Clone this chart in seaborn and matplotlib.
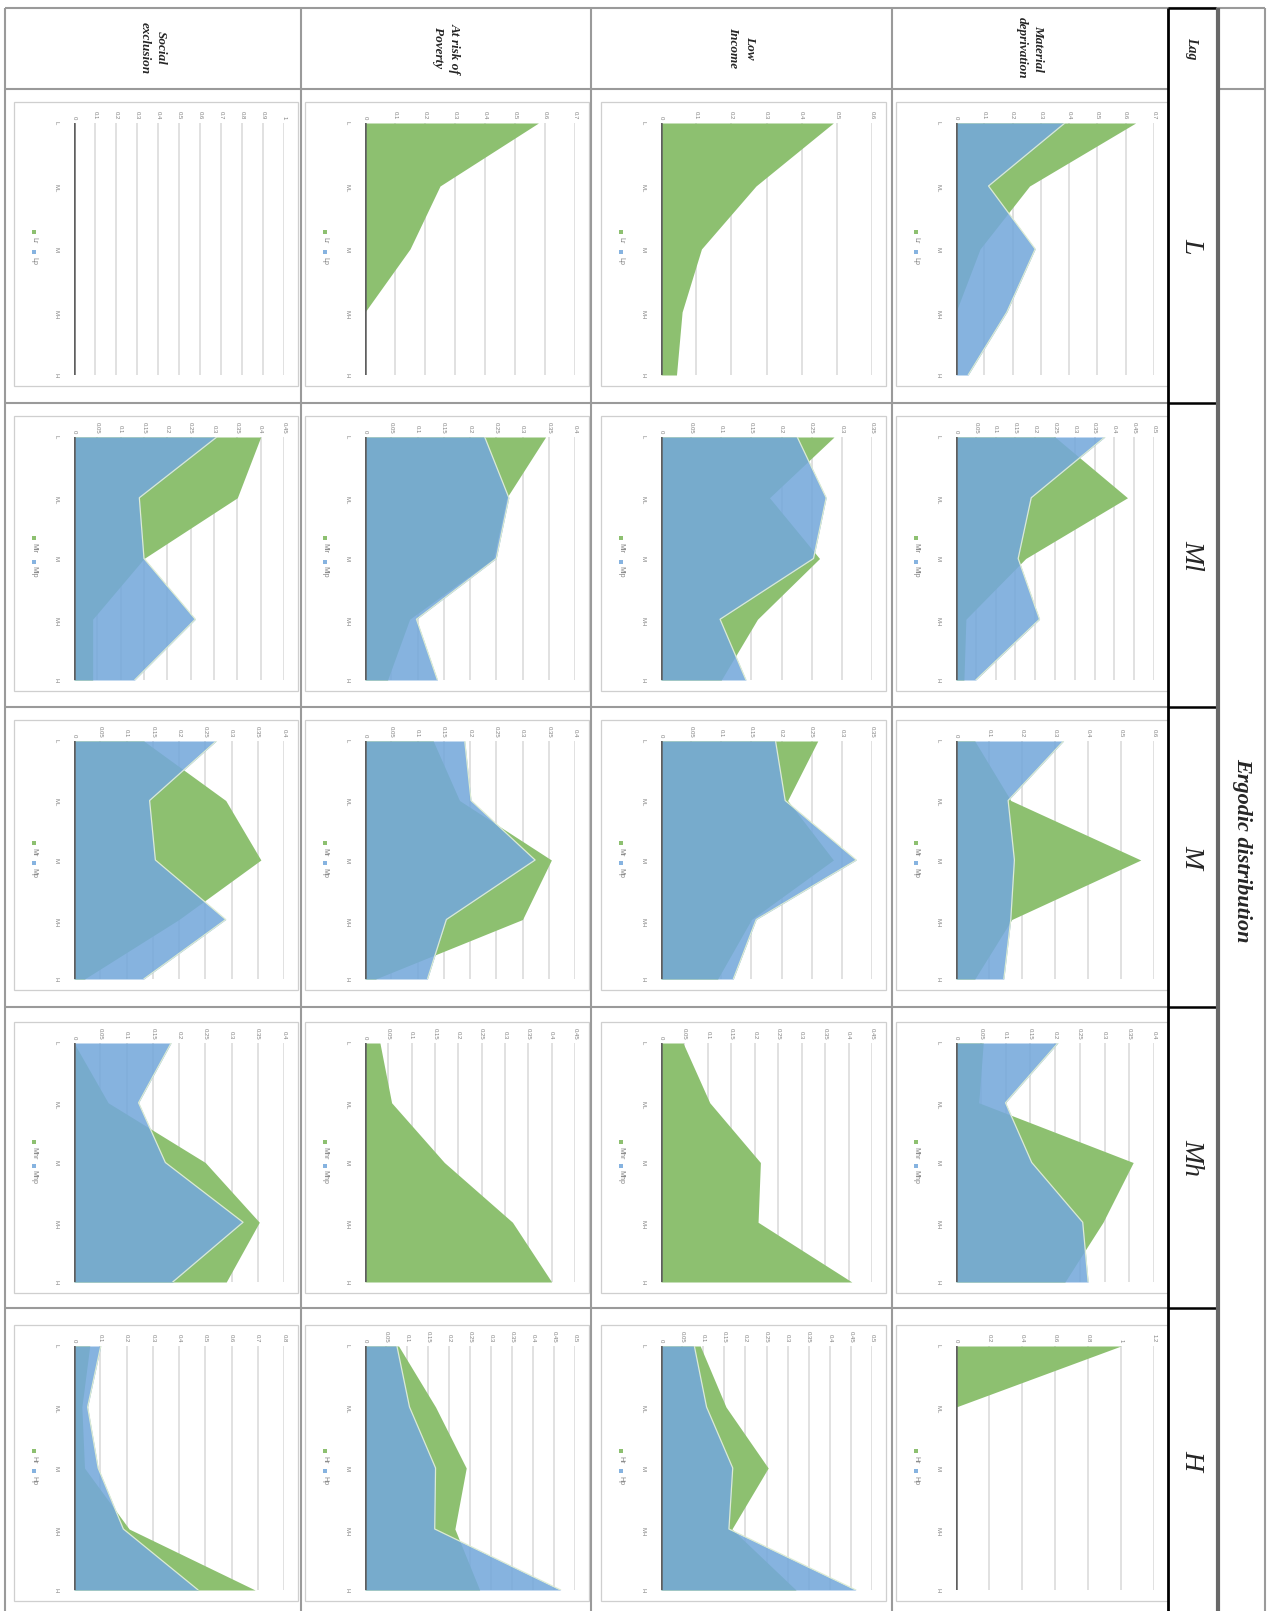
import matplotlib
matplotlib.use("Agg")
import matplotlib.pyplot as plt
from matplotlib.patches import Rectangle
import seaborn as sns
import numpy as np

lags = ["L", "Ml", "M", "Mh", "H"]
categories = ["L", "ML", "M", "MH", "H"]
indicators = ["Social\nexclusion", "At risk of\nPoverty", "Low\nIncome", "Material\ndeprivation"]

# green series ("r") and blue series ("p"), one row per lag: L, Ml, M, Mh, H
se_r = [[0, 0, 0, 0, 0],
        [0.40, 0.35, 0.15, 0.04, 0.04],
        [0.133, 0.289, 0.356, 0.20, 0.02],
        [0.0, 0.065, 0.25, 0.353, 0.29],
        [0.06, 0.03, 0.04, 0.21, 0.69]]
se_p = [[0, 0, 0, 0, 0],
        [0.306, 0.14, 0.15, 0.26, 0.13],
        [0.271, 0.144, 0.155, 0.289, 0.133],
        [0.185, 0.123, 0.174, 0.322, 0.188],
        [0.102, 0.052, 0.092, 0.188, 0.473]]
ar_r = [[0.578, 0.25, 0.15, 0.0, 0.0],
        [0.344, 0.27, 0.245, 0.085, 0.043],
        [0.13, 0.18, 0.355, 0.30, 0.02],
        [0.032, 0.057, 0.17, 0.316, 0.40],
        [0.08, 0.168, 0.241, 0.214, 0.273]]
ar_p = [[0, 0, 0, 0, 0],
        [0.228, 0.274, 0.25, 0.098, 0.138],
        [0.19, 0.202, 0.324, 0.155, 0.119],
        [0, 0, 0, 0, 0],
        [0.076, 0.106, 0.168, 0.166, 0.466]]
li_r = [[0.49, 0.27, 0.115, 0.06, 0.044],
        [0.287, 0.18, 0.263, 0.16, 0.10],
        [0.26, 0.21, 0.286, 0.15, 0.094],
        [0.047, 0.104, 0.212, 0.207, 0.407],
        [0.093, 0.154, 0.254, 0.168, 0.32]]
li_p = [[0, 0, 0, 0, 0],
        [0.226, 0.274, 0.253, 0.098, 0.141],
        [0.19, 0.206, 0.324, 0.158, 0.12],
        [0, 0, 0, 0, 0],
        [0.079, 0.108, 0.17, 0.161, 0.462]]
md_r = [[0.635, 0.26, 0.085, 0.0, 0.0],
        [0.25, 0.433, 0.176, 0.025, 0.02],
        [0.057, 0.166, 0.56, 0.169, 0.057],
        [0.055, 0.046, 0.358, 0.297, 0.22],
        [1.0, 0, 0, 0, 0]]
md_p = [[0.385, 0.115, 0.28, 0.18, 0.043],
        [0.376, 0.19, 0.157, 0.211, 0.05],
        [0.326, 0.158, 0.177, 0.166, 0.145],
        [0.206, 0.10, 0.153, 0.256, 0.267],
        [0, 0, 0, 0, 0]]

# value axis maximum and step per lag
se_max = [1.0, 0.45, 0.4, 0.4, 0.8]
se_step = [0.1, 0.05, 0.05, 0.05, 0.1]
ar_max = [0.7, 0.4, 0.4, 0.45, 0.5]
ar_step = [0.1, 0.05, 0.05, 0.05, 0.05]
li_max = [0.6, 0.35, 0.35, 0.45, 0.5]
li_step = [0.1, 0.05, 0.05, 0.05, 0.05]
md_max = [0.7, 0.5, 0.6, 0.4, 1.2]
md_step = [0.1, 0.05, 0.1, 0.05, 0.2]

series = [(se_r, se_p, se_max, se_step), (ar_r, ar_p, ar_max, ar_step),
          (li_r, li_p, li_max, li_step), (md_r, md_p, md_max, md_step)]

GREEN = "#8dc070"
BLUE = "#74a8db"
BLUE_LEG = "#86b3e0"
GRAY_TXT = "#808080"

sns.set_style("white")
plt.rcParams["font.family"] = ["Liberation Sans", "DejaVu Sans"]

W, H = 1267, 1611
col_x = [5, 301, 591, 892, 1168]
row_y = [89, 403, 707, 1007, 1308, 1611]
frame_x = [(14, 298), (305, 589), (601, 886), (896, 1168)]
frame_y = [(102, 386), (416, 691), (720, 990), (1022, 1293), (1325, 1601)]

fig = plt.figure(figsize=(W / 100, H / 100), dpi=100)
bg = fig.add_axes([0, 0, 1, 1])
bg.set_xlim(0, W)
bg.set_ylim(H, 0)
bg.axis("off")

# table grid
lc = "#9a9a9a"
bg.hlines(8, 5, 1265, color=lc, lw=1.5)
bg.hlines(89, 5, 1168, color=lc, lw=1.5)
bg.hlines(89, 1220, 1265, color=lc, lw=1.5)
bg.hlines(row_y[1:-1], 5, 1168, color=lc, lw=1.5)
bg.vlines(col_x[:-1], 8, H, color=lc, lw=1.5)
bg.vlines(1265, 8, H, color=lc, lw=1.5)
bg.vlines(1168, 8, H, color="black", lw=2)
bg.hlines([8] + row_y[1:-1], 1168, 1216, color="black", lw=1.8)
bg.vlines(1218, 8, H, color="#686868", lw=3)

serif = "Liberation Serif"
for i, lab in enumerate(indicators):
    bg.text((col_x[i] + col_x[i + 1]) / 2, 48, lab, rotation=-90, ha="center", va="center",
            fontsize=9.5, fontweight="bold", fontstyle="italic", family=serif,
            linespacing=1.5, multialignment="center")
bg.text(1192, 48, "Lag", rotation=-90, ha="center", va="center", fontsize=10,
        fontweight="bold", fontstyle="italic", family=serif)
for j, lag in enumerate(lags):
    bg.text(1192, (row_y[j] + row_y[j + 1]) / 2, lag, rotation=-90, ha="center", va="center",
            fontsize=20, fontstyle="italic", family=serif)
bg.text(1242, 850, "Ergodic distribution", rotation=-90, ha="center", va="center",
        fontsize=16, fontweight="bold", fontstyle="italic", family=serif)

pos = np.arange(len(categories))
for i, (r_all, p_all, vmaxs, steps) in enumerate(series):
    fx0, fx1 = frame_x[i]
    for j, lag in enumerate(lags):
        fy0, fy1 = frame_y[j]
        bg.add_patch(Rectangle((fx0, fy0), fx1 - fx0, fy1 - fy0, fill=False,
                               edgecolor="#cfcfcf", lw=0.9))
        px0, px1 = fx0 + 60, fx1 - 14
        py0, py1 = fy0 + 21, fy1 - 11
        ax = fig.add_axes([px0 / W, 1 - py1 / H, (px1 - px0) / W, (py1 - py0) / H])
        ax.set_facecolor("none")
        r = r_all[j]
        p = p_all[j]
        ax.fill_betweenx(pos, 0, r, color=GREEN, lw=0, zorder=2)
        ax.fill_betweenx(pos, 0, p, color=BLUE, alpha=0.87, lw=0, zorder=2.1)
        if max(p) > 0:
            sns.lineplot(x=p, y=pos, sort=False, estimator=None, color="#dcebd3",
                         lw=0.9, ax=ax, zorder=2.2)
        ax.axvline(0, color="#5f5f5f", lw=1.8, zorder=3)
        vmax, step = vmaxs[j], steps[j]
        ticks = np.round(np.arange(0, vmax + step / 2, step), 2)
        ax.set_xlim(0, vmax)
        ax.set_ylim(len(categories) - 1, 0)
        ax.xaxis.tick_top()
        ax.set_xticks(ticks)
        ax.set_xticklabels([f"{t:g}" for t in ticks])
        ax.set_yticks(pos)
        ax.set_yticklabels(categories)
        ax.tick_params(axis="x", length=0, pad=2.5, labelsize=4.3, labelcolor=GRAY_TXT,
                       labelrotation=-90)
        ax.tick_params(axis="y", length=0, pad=11, labelsize=4.3, labelcolor=GRAY_TXT,
                       labelrotation=-90)
        ax.grid(axis="x", color="#dcdcdc", lw=1.2)
        ax.grid(axis="y", visible=False)
        ax.set_axisbelow(True)
        for s in ax.spines.values():
            s.set_visible(False)
        ax.set_xlabel("")
        ax.set_ylabel("")

        # legend, drawn along the left side of the frame
        lx = fx0 + 20
        ly = (py0 + py1) / 2 - 2
        names = [lag + "r", lag + "p"]
        cw = 3.6
        total = 4 + 3 + len(names[0]) * cw + 6 + 4 + 3 + len(names[1]) * cw
        y = ly - total / 2
        for name, col in zip(names, [GREEN, BLUE_LEG]):
            bg.add_patch(Rectangle((lx - 2, y), 4, 4, color=col, lw=0))
            y += 7
            bg.text(lx, y, name, rotation=-90, ha="center", va="top", fontsize=5,
                    color=GRAY_TXT)
            y += len(name) * cw + 6

fig.savefig("out.png", dpi=100)
